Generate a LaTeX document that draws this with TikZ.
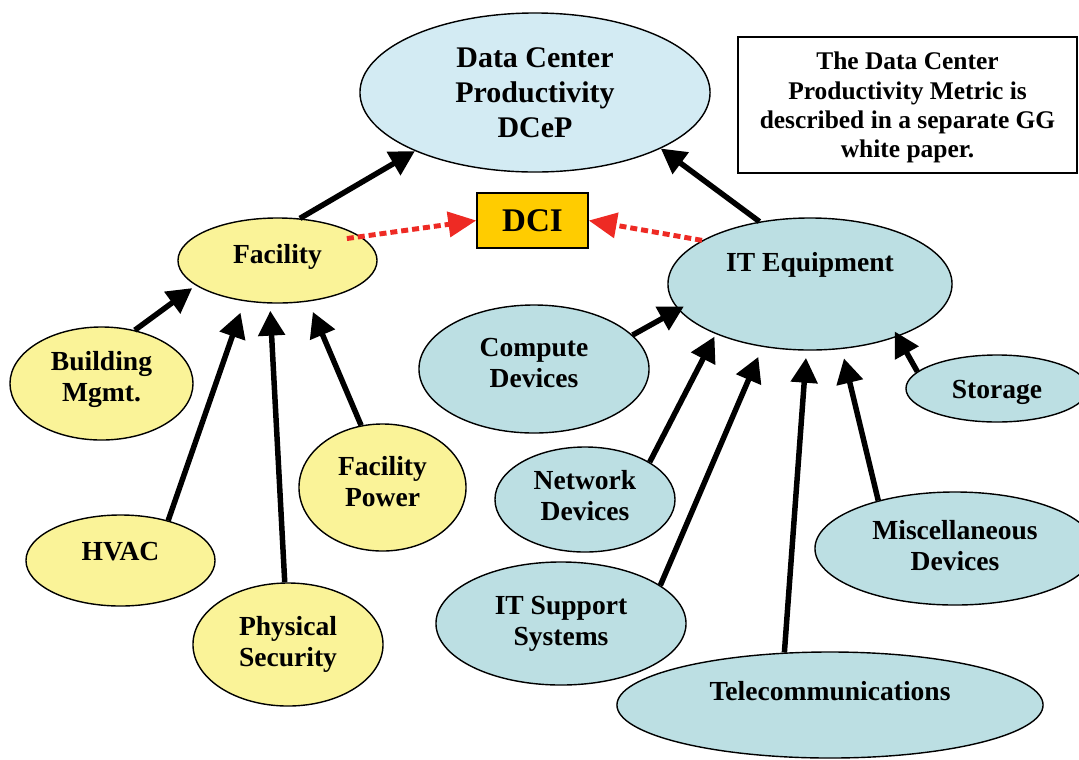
\documentclass[tikz,border=0pt]{standalone}
\usepackage{fontspec}
\setmainfont{Liberation Serif}
\usepackage{xcolor}
\usepackage{tikz}
\usetikzlibrary{shapes, arrows.meta, positioning}
\definecolor{dcepblue}{HTML}{D3EBF3}
\definecolor{itblue}{HTML}{BCDFE3}
\definecolor{facyellow}{HTML}{FAF398}
\definecolor{dcigold}{HTML}{FFCC00}
\definecolor{dotred}{HTML}{EE2A24}
\tikzset{
    base/.style={draw=black, line width=1pt, font=\bfseries\fontsize{19.6}{22}\selectfont, align=center, inner sep=0pt},
    facblob/.style={base, ellipse, fill=facyellow},
    itblob/.style={base, ellipse, fill=itblue},
    topblob/.style={base, ellipse, fill=dcepblue, font=\bfseries\fontsize{21.3}{24.9}\selectfont},
    dcibox/.style={base, rectangle, fill=dcigold, font=\bfseries\fontsize{23.5}{26}\selectfont},
    notebox/.style={base, rectangle, line width=1.4pt, fill=white, font=\bfseries\fontsize{18.1}{20.8}\selectfont},
    line/.style={draw=black, line width=3.9pt, -{Triangle[length=0.62cm, width=0.65cm]}},
    dotted-line/.style={draw=dotred, line width=3.5pt, dash pattern=on 5pt off 2.8pt, -{Triangle[length=0.7cm, width=0.62cm]}}
}
\begin{document}
\begin{tikzpicture}[x=0.025cm, y=-0.025cm]
    \useasboundingbox (0,0) rectangle (1079,759);

    \node [topblob, minimum width=8.75cm, minimum height=3.975cm] (DCeP) at (535,92.5) {Data Center\\Productivity\\DCeP};
    \node [notebox, minimum width=8.475cm, minimum height=3.4cm, text depth=0pt] (Note) at (907.5,105) {The Data Center\\Productivity Metric is\\described in a separate GG\\white paper.};
    \node [dcibox, minimum width=2.775cm, minimum height=1.375cm] (DCI) at (532.5,220.5) {DCI};

    \node [facblob, minimum width=4.975cm, minimum height=2.125cm, text depth=10pt] (Facility) at (277.5,260.5) {Facility};
    \node [facblob, minimum width=4.575cm, minimum height=2.825cm, text depth=10pt] (Building) at (101.5,383.5) {Building\\Mgmt.};
    \node [facblob, minimum width=4.725cm, minimum height=2.275cm, text height=13pt, text depth=13.6pt] (HVAC) at (120.5,560.5) {HVAC};
    \node [facblob, minimum width=4.75cm, minimum height=3.075cm] (PhysSec) at (288,644.5) {Physical\\Security};
    \node [facblob, minimum width=4.175cm, minimum height=3.175cm, text depth=8.5pt] (FacPower) at (382.5,487.5) {Facility\\Power};

    \node [itblob, minimum width=7.1cm, minimum height=3.3cm, text height=13.4pt, text depth=31.6pt] (IT) at (810,284) {IT Equipment};
    \node [itblob, minimum width=5.75cm, minimum height=3.2cm, text depth=8.5pt] (Compute) at (534,369) {Compute\\Devices};
    \node [itblob, minimum width=4.5cm, minimum height=2.625cm, text depth=5.7pt] (Network) at (585,499.5) {Network\\Devices};
    \node [itblob, minimum width=6.25cm, minimum height=3.075cm, text depth=4pt] (ITSupport) at (561,623.5) {IT Support\\Systems};
    \node [itblob, minimum width=10.65cm, minimum height=2.65cm, text height=13.4pt, text depth=20.4pt] (Telecom) at (830,705) {Telecommunications};
    \node [itblob, minimum width=7cm, minimum height=2.825cm, text depth=4pt] (Misc) at (955,548.5) {Miscellaneous\\Devices};
    \node [itblob, minimum width=4.55cm, minimum height=1.675cm, text height=19pt, text depth=4.25pt] (Storage) at (997,388.5) {Storage};

    \draw [line] (Facility.62) -- (DCeP.206.6);
    \draw [line] (IT.129.4) -- (DCeP.336.1);
    \draw [line, shorten >=0.11cm] (Building.58.5) -- (Facility.197.4);
    \draw [line, shorten >=0.3cm] (HVAC.40.5) -- (Facility.231.4);
    \draw [line, shorten >=0.18cm] (PhysSec.93.7) -- (Facility.260.3);
    \draw [line, shorten >=0.28cm] (FacPower.109.8) -- (Facility.307.1);
    \draw [line, shorten >=-0.16cm] (Compute.19.8) -- (IT.191.9);
    \draw [line, shorten >=0.07cm] (Network.30) -- (IT.208);
    \draw [line, shorten >=0.27cm] (ITSupport.21.7) -- (IT.233.3);
    \draw [line, shorten >=0.18cm] (Telecom.131.6) -- (IT.267.6);
    \draw [line, shorten >=0.24cm] (Misc.148.5) -- (IT.296.3);
    \draw [line, shorten >=-0.15cm] (Storage.168.3) -- (IT.329.1);

    \draw [dotted-line, shorten <=-0.355cm] (Facility.16.9) -- (DCI.west);
    \draw [dotted-line] (IT.158.2) -- (DCI.east);
\end{tikzpicture}
\end{document}
